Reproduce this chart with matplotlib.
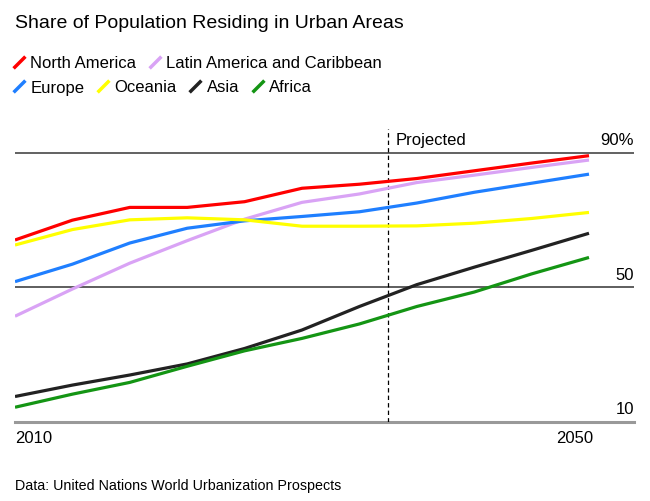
import matplotlib
matplotlib.use("Agg")
import matplotlib.pyplot as plt
from matplotlib.path import Path
from matplotlib.lines import Line2D

plt.rcParams['font.family'] = ['Liberation Sans', 'DejaVu Sans']

# data (share urban, %)
years = [2010, 2014, 2018, 2022, 2026, 2030, 2034, 2038, 2042, 2046, 2050]
north_america = [64.1, 70.0, 73.8, 73.8, 75.5, 79.5, 80.7, 82.4, 84.7, 87.0, 89.2]
latin_america = [41.4, 49.5, 57.2, 63.9, 70.3, 75.3, 77.8, 81.2, 83.4, 85.7, 87.9]
europe = [51.7, 56.9, 63.2, 67.6, 69.8, 71.1, 72.5, 75.1, 78.3, 81.0, 83.7]
oceania = [62.6, 67.2, 70.1, 70.7, 70.1, 68.2, 68.2, 68.3, 69.1, 70.5, 72.3]
asia = [17.5, 20.9, 23.9, 27.2, 31.8, 37.3, 44.3, 50.8, 56.0, 61.0, 66.1]
africa = [14.3, 18.2, 21.7, 26.5, 31.1, 34.8, 39.1, 44.3, 48.6, 54.0, 58.9]

projected_from = 2036
y_ticks = [90, 50, 10]
y_labels = ['90%', '50', '10']

series = [
    ('North America', north_america, '#ff0000'),
    ('Latin America and Caribbean', latin_america, '#d9a3f5'),
    ('Europe', europe, '#1f7fff'),
    ('Oceania', oceania, '#ffff00'),
    ('Asia', asia, '#222222'),
    ('Africa', africa, '#149514'),
]

fig = plt.figure(figsize=(6.5, 5.02), dpi=100)
ax = fig.add_axes([15 / 650, (502 - 422.7) / 502, 619 / 650, (422.7 - 125) / 502])
ax.set_xlim(2010, 2010 + 619 / 14.35)
ax.set_ylim(10, 90 + (154 - 125) / 3.36)
for s in ax.spines.values():
    s.set_visible(False)

# gridlines
ax.axhline(90, color='#555555', lw=1.3, zorder=1)
ax.axhline(50, color='#333333', lw=1.1, zorder=1)
ax.axhline(10, color='#999999', lw=2.2, zorder=1, clip_on=False)

# projected marker
ax.plot([projected_from, projected_from], [10, 97.1], color='black', lw=0.9,
        ls=(0, (3.5, 2.5)), zorder=2)
ax.annotate('Projected', (projected_from, 97.1), xytext=(5.5, -2), textcoords='offset points',
            ha='left', va='top', fontsize=12)

for name, vals, col in series:
    ax.plot(years, vals, color=col, lw=2.3, solid_capstyle='butt', zorder=3)

for v, lab in zip(y_ticks, y_labels):
    ax.annotate(lab, (ax.get_xlim()[1], v), xytext=(0, 4), textcoords='offset points',
                ha='right', va='bottom', fontsize=12)

ax.set_yticks([])
ax.set_xticks([2010, 2050.3])
ax.set_xticklabels(['2010', '2050'], fontsize=12)
ax.tick_params(axis='x', length=0, pad=6)
lbls = ax.get_xticklabels()
lbls[0].set_ha('left')
lbls[1].set_ha('right')

# legend with slash-shaped keys
slash = Path([(-1, -1), (1, 1)], [Path.MOVETO, Path.LINETO])
handles = [Line2D([], [], ls='none', marker=slash, markersize=8.5, mew=2.5,
                  markeredgecolor=col, markerfacecolor=col, label=name)
           for name, vals, col in series]
leg_kw = dict(frameon=False, fontsize=12, handlelength=0.7, handletextpad=0.35,
              columnspacing=0.75, borderpad=0, borderaxespad=0, numpoints=1, loc='center left')
fig.legend(handles=handles[:2], ncol=2, bbox_to_anchor=(13 / 650, 1 - 64 / 502), **leg_kw)
fig.legend(handles=handles[2:], ncol=4, bbox_to_anchor=(13 / 650, 1 - 88 / 502), **leg_kw)

fig.text(15 / 650, 1 - 23 / 502, 'Share of Population Residing in Urban Areas',
         fontsize=14, ha='left', va='center')
fig.text(15 / 650, 1 - 486 / 502, 'Data: United Nations World Urbanization Prospects',
         fontsize=10.3, ha='left', va='center')

fig.savefig('out.png', dpi=100)
